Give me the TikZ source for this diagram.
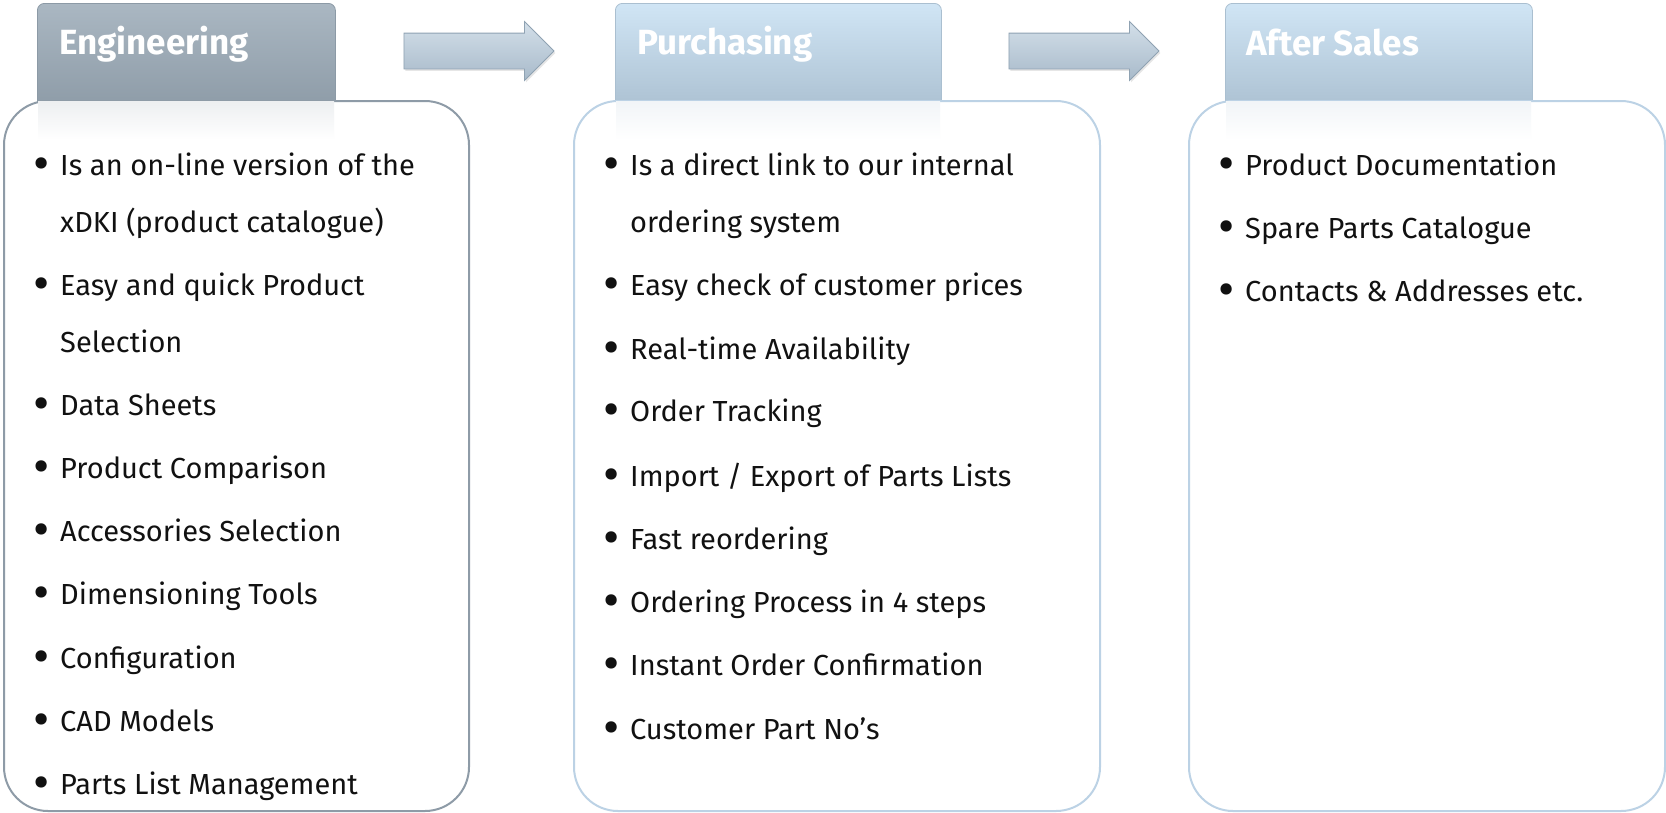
\documentclass[tikz,border=0pt]{standalone}
\usepackage{fontspec}
\setmainfont{Fira Sans}
\usetikzlibrary{shapes.arrows,shadows,positioning}

\definecolor{engtop}{HTML}{AAB7C2}
\definecolor{engbot}{HTML}{8C9AA6}
\definecolor{engline}{HTML}{8E9BA7}
\definecolor{bluetop}{HTML}{D0E5F5}
\definecolor{bluebot}{HTML}{AABFD0}
\definecolor{blueline}{HTML}{BCD2E5}
\definecolor{arrtop}{HTML}{D3DFE9}
\definecolor{arrmid}{HTML}{E6EEF4}
\definecolor{arrbot}{HTML}{A8BACA}
\definecolor{arrline}{HTML}{8FA2B2}
\definecolor{ink}{HTML}{111111}

\newcommand\bul{\llap{\raisebox{-5pt}{\fontsize{50}{50}\selectfont\textbullet}\hspace{11pt}}}

\tikzset{
  tab/.style={anchor=north west, inner sep=0pt, rounded corners=7pt,
    minimum width=#1, minimum height=110pt, line width=0.8pt},
  box/.style={anchor=north west, inner sep=0pt, fill=white, line width=2pt,
    rounded corners=44pt, minimum width=#1, minimum height=710pt},
  blockarrow/.style={single arrow, single arrow head extend=11.5pt,
    minimum height=150pt, inner xsep=0pt, inner ysep=17.5pt,
    top color=arrtop, middle color=arrmid, bottom color=arrbot,
    draw=arrline, line width=0.8pt,
    drop shadow={opacity=0.2, shadow xshift=1.5pt, shadow yshift=-2pt}},
  head/.style={anchor=base west, inner sep=0pt, text=white,
    font=\fontsize{35}{40}\selectfont\bfseries},
  item/.style={anchor=base west, inner sep=0pt, align=left, text=ink,
    font=\fontsize{29}{57}\selectfont}
}

\begin{document}
\begin{tikzpicture}[x=1pt,y=-1pt]
\useasboundingbox (0,0) rectangle (1666,812);

% tabs behind the boxes
\node[tab=298pt, top color=engtop, bottom color=engbot, draw=engbot] (engtab) at (37,3) {};
\node[tab=326pt, top color=bluetop, bottom color=bluebot, draw=bluebot] (purtab) at (615,3) {};
\node[tab=307pt, top color=bluetop, bottom color=bluebot, draw=bluebot] (afttab) at (1225,3) {};

% boxes
\node[box=465pt, draw=engline] (engbox) at (3,100) {};
\node[box=526pt, draw=blueline] (purbox) at (573,100) {};
\node[box=476pt, draw=blueline] (aftbox) at (1188,100) {};

% faint fade of the tabs
\fill[top color=engbot!16, bottom color=white] (38,101) rectangle (334,140);
\fill[top color=bluebot!16, bottom color=white] (616,101) rectangle (940,140);
\fill[top color=bluebot!16, bottom color=white] (1226,101) rectangle (1531,140);

% arrows
\node[blockarrow] (arr_1) at (470,51) {};
\node[blockarrow] (arr_2) at (1075,51) {};

% headers
\node[head] (h_eng) at (59,54) {Engineering};
\node[head] (h_pur) at (637,54) {Purchasing};
\node[head] (h_aft) at (1246,55) {After Sales};

% Engineering (two-line items sit on their last line)
\node[item] (e_1) at (60,232) {\bul Is an on-line version of the\\xDKI (product catalogue)};
\node[item] (e_2) at (60,352) {\bul Easy and quick Product\\Selection};
\node[item] (e_3) at (60,415) {\bul Data Sheets};
\node[item] (e_4) at (60,478) {\bul Product Comparison};
\node[item] (e_5) at (60,541) {\bul Accessories Selection};
\node[item] (e_6) at (60,604) {\bul Dimensioning Tools};
\node[item] (e_7) at (60,668) {\bul Configuration};
\node[item] (e_8) at (60,731) {\bul CAD Models};
\node[item] (e_9) at (60,794) {\bul Parts List Management};

% Purchasing
\node[item] (p_1) at (630,232) {\bul Is a direct link to our internal\\ordering system};
\node[item] (p_2) at (630,295) {\bul Easy check of customer prices};
\node[item] (p_3) at (630,359) {\bul Real-time Availability};
\node[item] (p_4) at (630,421) {\bul Order Tracking};
\node[item] (p_5) at (630,486) {\bul Import / Export of Parts Lists};
\node[item] (p_6) at (630,549) {\bul Fast reordering};
\node[item] (p_7) at (630,612) {\bul Ordering Process in 4 steps};
\node[item] (p_8) at (630,675) {\bul Instant Order Confirmation};
\node[item] (p_9) at (630,739) {\bul Customer Part No’s};

% After Sales
\node[item] (a_1) at (1245,175) {\bul Product Documentation};
\node[item] (a_2) at (1245,238) {\bul Spare Parts Catalogue};
\node[item] (a_3) at (1245,301) {\bul Contacts \& Addresses etc.};
\end{tikzpicture}
\end{document}
